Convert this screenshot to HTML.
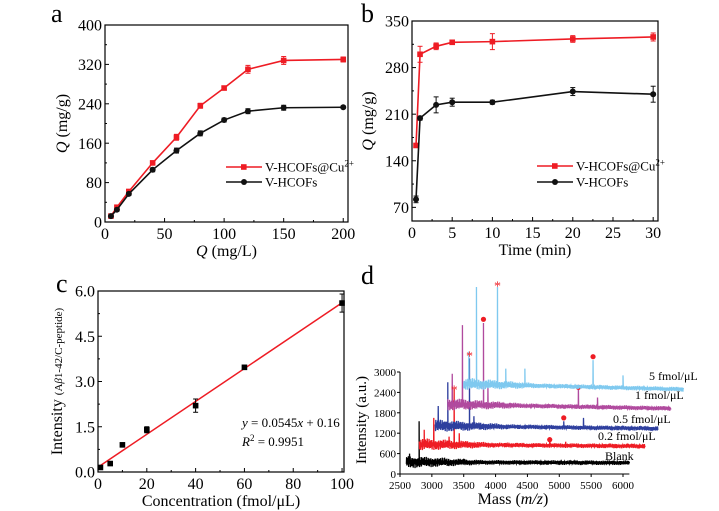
<!DOCTYPE html>
<html><head><meta charset="utf-8"><style>
body{margin:0;background:#fff;}
svg{display:block;font-family:"Liberation Serif",serif;}
</style></head><body>
<svg id="fig" width="719" height="511" viewBox="0 0 719 511"></svg>
<script>
// ---- Panel a data ----
const aConc = [5,10,20,40,60,80,100,120,150,200];
const aRed = [12,30,62,120,172,236,272,310,328,330];
const aRedErr = [2,3,3,4,6,5,3,8,8,5];
const aBlack = [12,25,57,106,145,180,207,225,232,233];
const aBlackErr = [2,3,3,4,5,5,4,5,5,2];
const aXTicks = [0,50,100,150,200];
const aYTicks = [0,80,160,240,320,400];
// ---- Panel b data ----
const bTime = [0.5,1,3,5,10,20,30];
const bRed = [163,300,312,318,319,323,326];
const bRedErr = [2,12,5,2,12,5,6];
const bBlack = [82,204,224,228,228,244,240];
const bBlackErr = [5,3,12,6,3,6,12];
const bXTicks = [0,5,10,15,20,25,30];
const bYTicks = [70,140,210,280,350];
// ---- Panel c data ----
const cConc = [1,5,10,20,40,60,100];
const cInt = [0.15,0.28,0.9,1.4,2.2,3.47,5.6];
const cErr = [0.03,0.05,0.04,0.1,0.22,0.03,0.3];
const cXTicks = [0,20,40,60,80,100];
const cYTicks = ["0.0","1.5","3.0","4.5","6.0"];
const cSlope = 0.0545, cIntercept = 0.16;
// ---- Panel d data ----
const dLabels = ["Blank","0.2 fmol/\u03bcL","0.5 fmol/\u03bcL","1 fmol/\u03bcL","5 fmol/\u03bcL"];
const dColors = ["#000000","#ee1c24","#2e3f9e","#b04a9e","#7fc9ef"];
const dStart = [2600,2800,3050,3250,3500];
const dEnd = [6100,6350,6550,6750,6950];
const dBase = [350,870,1420,2050,2650];
const dPeakMass = [[2650,2800,2950,3050,3200,3500],[2880,3030,3270,3350,3430,4850,5100],[3100,3250,3590,3660,5070,5380],[3320,3480,3810,3880,5300,5600],[3580,3700,4030,4160,4460,5530,6000]];
const dPeakInt = [[600,1550,450,450,480,450],[1300,1650,1100,2500,1200,950,950],[2000,2700,3400,1700,1550,1650],[2950,4380,4440,2600,2600,2250],[3600,5500,5500,3100,3100,3350,2900]];
const dMarkMass = [[],[4850],[5070],[3350,3810,5300],[3590,4030,5530]];
const dMarkInt = [[],[1010],[1650],[2550,4550,2550],[3550,5600,3450]];
const dMarkStar = [[],[false],[false],[true,false,false],[true,true,false]];
const dXTicks = [2500,3000,3500,4000,4500,5000,5500,6000];
const dYTicks = [0,600,1200,1800,2400,3000];

const svg = document.getElementById('fig');
const NS = 'http://www.w3.org/2000/svg';
function mk(tag, attrs, parent){const e=document.createElementNS(NS,tag);for(const k in attrs)e.setAttribute(k,attrs[k]);(parent||svg).appendChild(e);return e;}
function txt(s, x, y, size, anchor, parent, extra){const t=mk('text',Object.assign({x:x,y:y,'font-size':size,'text-anchor':anchor||'middle',fill:'#000'},extra||{}),parent);t.innerHTML=s;return t;}

function linePanel(cfg){
  const g = mk('g',{});
  
  
  const X = v => cfg.x0 + (v - cfg.xmin)/(cfg.xmax-cfg.xmin)*(cfg.x1-cfg.x0);
  const Y = v => cfg.y1 - (v - cfg.ymin)/(cfg.ymax-cfg.ymin)*(cfg.y1-cfg.y0);
  const fr = mk('rect',{x:cfg.x0,y:cfg.y0,width:cfg.x1-cfg.x0,height:cfg.y1-cfg.y0,fill:'none',stroke:'#000','stroke-width':1.2},g);
   
  cfg.xTicks.forEach((t,i)=>{const x=X(+t);mk('line',{x1:x,x2:x,y1:cfg.y1,y2:cfg.y1-4,stroke:'#000'},g);
    if(i<cfg.xTicks.length-1){const xm=X((+t + +cfg.xTicks[i+1])/2);mk('line',{x1:xm,x2:xm,y1:cfg.y1,y2:cfg.y1-2,stroke:'#000'},g);}
    const l=txt(String(t),x,cfg.y1+cfg.fs+1,cfg.fs,'middle',g);});
  cfg.yTicks.forEach((t,i)=>{const y=Y(+t);mk('line',{x1:cfg.x0,x2:cfg.x0+4,y1:y,y2:y,stroke:'#000'},g);
    if(i<cfg.yTicks.length-1){const ym=Y((+t + +cfg.yTicks[i+1])/2);mk('line',{x1:cfg.x0,x2:cfg.x0+2,y1:ym,y2:ym,stroke:'#000'},g);}
    const l=txt(String(t),cfg.x0-3,y+cfg.fs*0.35,cfg.fs,'end',g);});
  const xt=txt(cfg.xTitle,(cfg.x0+cfg.x1)/2,cfg.y1+cfg.fs*2+2,cfg.fs,'middle',g);
   
  const yc=(cfg.y0+cfg.y1)/2;
  const yt=txt(cfg.yTitle,cfg.ytx,yc,cfg.yfs||cfg.fs,'middle',g,{transform:`rotate(-90 ${cfg.ytx} ${yc})`});
   
  const pl=txt(cfg.letter,cfg.lx,cfg.ly,26,'start',g);
   
  return {g,X,Y};
}

function series(p, xs, ys, errs, color, marker, name){
  const sg = mk('g',{},p.g);
  
  
  mk('polyline',{points:xs.map((x,i)=>p.X(x)+','+p.Y(ys[i])).join(' '),fill:'none',stroke:color,'stroke-width':1.6},sg);
  xs.forEach((x,i)=>{const cx=p.X(x),cy=p.Y(ys[i]);
    const e1=p.Y(ys[i]+errs[i]),e2=p.Y(ys[i]-errs[i]);
    mk('line',{x1:cx,x2:cx,y1:e1,y2:e2,stroke:color,'stroke-width':1},sg);
    mk('line',{x1:cx-2.5,x2:cx+2.5,y1:e1,y2:e1,stroke:color},sg);
    mk('line',{x1:cx-2.5,x2:cx+2.5,y1:e2,y2:e2,stroke:color},sg);
    let m;
    if(marker==='sq') m=mk('rect',{x:cx-2.8,y:cy-2.8,width:5.6,height:5.6,fill:color},sg);
    else m=mk('circle',{cx:cx,cy:cy,r:3,fill:color},sg);
     
  });
}
function legend(p, x, y, color, marker, label){
  const lg = mk('g',{},p.g);
  
  
  mk('line',{x1:x,x2:x+36,y1:y,y2:y,stroke:color,'stroke-width':1.6},lg);
  if(marker==='sq') mk('rect',{x:x+15,y:y-2.8,width:5.6,height:5.6,fill:color},lg);
  else mk('circle',{cx:x+18,cy:y,r:3,fill:color},lg);
  txt(label,x+39,y+4.5,13,'start',lg);
}

// Panel a
const pa = linePanel({name:'panel-a',x0:105,x1:348,y0:25,y1:222,xmin:0,xmax:204,ymin:0,ymax:400,xTicks:aXTicks,yTicks:aYTicks,fs:16,
  xTitle:'<tspan font-style="italic">Q</tspan> (mg/L)',yTitle:'<tspan font-style="italic">Q</tspan> (mg/g)',ytx:67,letter:'a',lx:51,ly:22});
series(pa,aConc,aRed,aRedErr,'#ee1c24','sq','series-v-hcofs-cu');
series(pa,aConc,aBlack,aBlackErr,'#111','ci','series-v-hcofs');
legend(pa,226,167,'#ee1c24','sq','V-HCOFs@Cu<tspan dy="-5" font-size="9">2+</tspan>');
legend(pa,226,182,'#111','ci','V-HCOFs');

// Panel b
const pb = linePanel({name:'panel-b',x0:412,x1:658,y0:21,y1:221,xmin:0,xmax:30.6,ymin:49.5,ymax:350,xTicks:bXTicks,yTicks:bYTicks,fs:16,
  xTitle:'Time (min)',yTitle:'<tspan font-style="italic">Q</tspan> (mg/g)',ytx:373,letter:'b',lx:361,ly:22});
series(pb,bTime,bRed,bRedErr,'#ee1c24','sq','series-v-hcofs-cu');
series(pb,bTime,bBlack,bBlackErr,'#111','ci','series-v-hcofs');
legend(pb,537,166,'#ee1c24','sq','V-HCOFs@Cu<tspan dy="-5" font-size="9">2+</tspan>');
legend(pb,537,182,'#111','ci','V-HCOFs');

// Panel c
const pc = linePanel({name:'panel-c',x0:98,x1:344,y0:291,y1:472,xmin:0,xmax:100.8,ymin:0,ymax:6,xTicks:cXTicks,yTicks:cYTicks,fs:16,
  xTitle:'Concentration (fmol/\u03bcL)',yTitle:'Intensity <tspan font-size="11">(A<tspan font-style="italic">\u03b2</tspan>1-42/C-peptide)</tspan>',ytx:62,letter:'c',lx:56,ly:292});
(function(){
  const fit = mk('line',{x1:pc.X(cConc[0]),y1:pc.Y(cSlope*cConc[0]+cIntercept),x2:pc.X(cConc[cConc.length-1]),y2:pc.Y(cSlope*cConc[cConc.length-1]+cIntercept),stroke:'#ee1c24','stroke-width':1.5},pc.g);
   
  cConc.forEach((x,i)=>{const cx=pc.X(x),cy=pc.Y(cInt[i]);
    const e1=pc.Y(cInt[i]+cErr[i]),e2=pc.Y(cInt[i]-cErr[i]);
    mk('line',{x1:cx,x2:cx,y1:e1,y2:e2,stroke:'#000'},pc.g);
    mk('line',{x1:cx-2.5,x2:cx+2.5,y1:e1,y2:e1,stroke:'#000'},pc.g);
    mk('line',{x1:cx-2.5,x2:cx+2.5,y1:e2,y2:e2,stroke:'#000'},pc.g);
    const m=mk('rect',{x:cx-2.8,y:cy-2.8,width:5.6,height:5.6,fill:'#000'},pc.g);
     });
  const eq=txt('<tspan font-style="italic">y</tspan> = 0.0545<tspan font-style="italic">x</tspan> + 0.16',242,427,13,'start',pc.g);
   
  const r2=txt('<tspan font-style="italic">R</tspan><tspan dy="-5" font-size="9">2</tspan><tspan dy="5"> = 0.9951</tspan>',242,446,13,'start',pc.g);
   
})();

// Panel d
(function(){
  const g = mk('g',{});
  
  
  const x0=400,y1=474;
  const X = m => x0 + (m-2500)*223/3500;
  const Y = v => y1 - v*102/3000;
  mk('line',{x1:x0,x2:x0,y1:y1,y2:Y(3000),stroke:'#000'},g);
  mk('line',{x1:x0,x2:X(6100),y1:y1,y2:y1,stroke:'#000'},g);
  dXTicks.forEach(t=>{mk('line',{x1:X(t),x2:X(t),y1:y1,y2:y1+3,stroke:'#000'},g);
    const l=txt(String(t),X(t),y1+15,11,'middle',g);});
  dYTicks.forEach(t=>{mk('line',{x1:x0,x2:x0-3,y1:Y(t),y2:Y(t),stroke:'#000'},g);
    const l=txt(String(t),x0-4,Y(t)+4,11,'end',g);});
  const xt=txt('Mass (<tspan font-style="italic">m/z</tspan>)',513,504,16,'middle',g);
   
  const yt=txt('Intensity (a.u.)',366,420,15,'middle',g,{transform:'rotate(-90 366 420)'});
   
  const pl=txt('d',361,284,26,'start',g);
   
  const labX=[605,598,613,635,649], labY=[460,440,423,399,380];
  for(let s=0;s<5;s++){
    const sg=mk('g',{},g);
    
    
    let pts=[];
    for(let m=dStart[s]; m<=dEnd[s]; m+=4){
      // decorative baseline ripple
      const near = Math.max(0, 1-(m-dStart[s])/1200);
      let v=dBase[s]*(1-0.06*(m-dStart[s])/(dEnd[s]-dStart[s])) + (70+120*near)*Math.sin(m*0.91+s)*Math.sin(m*0.213);
      pts.push(X(m)+','+Y(v));
      dPeakMass[s].forEach((pm,k)=>{ if(pm>=m && pm<m+4){ pts.push(X(pm)+','+Y(dPeakInt[s][k])); pts.push(X(pm+3)+','+Y(dBase[s])); } });
    }
    mk('polyline',{points:pts.join(' '),fill:'none',stroke:dColors[s],'stroke-width':1.3},sg);
    dMarkMass[s].forEach((mm,k)=>{
      if(dMarkStar[s][k]) txt('*',X(mm),Y(dMarkInt[s][k])+7,14,'middle',sg,{fill:'#ee1c24'});
      else mk('circle',{cx:X(mm),cy:Y(dMarkInt[s][k]),r:2.6,fill:'#ee1c24'},sg);
    });
    const l=txt(dLabels[s],labX[s],labY[s],12,'start',g);
     
  }
})();
</script>
</body></html>
